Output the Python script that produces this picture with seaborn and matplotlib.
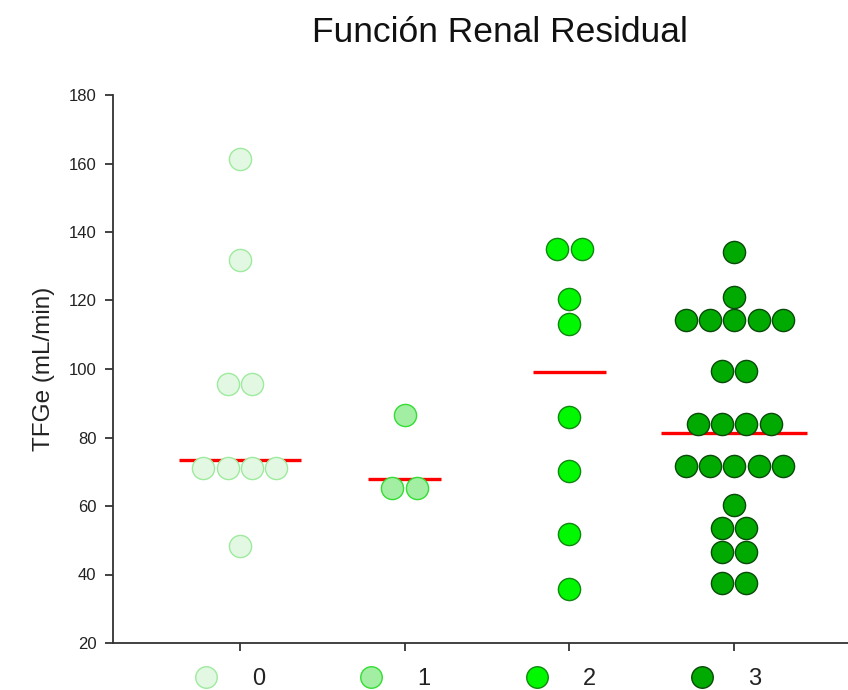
import numpy as np
import pandas as pd
import matplotlib
matplotlib.use("Agg")
import matplotlib.pyplot as plt
from matplotlib.lines import Line2D
import seaborn as sns

# ---- data ----
categories = ["0", "1", "2", "3"]
g0 = [161.3, 131.8, 95.6, 95.6, 71.1, 71.1, 71.1, 71.1, 48.4]
g1 = [86.6, 65.3, 65.3]
g2 = [135.0, 135.0, 120.4, 113.0, 86.0, 70.3, 51.8, 35.8]
g3 = [134.3, 121.0, 114.3, 114.3, 114.3, 114.3, 114.3, 99.5, 99.5,
      83.9, 83.9, 83.9, 83.9, 71.8, 71.8, 71.8, 71.8, 71.8,
      60.3, 53.6, 53.6, 46.6, 46.6, 37.5, 37.5]
medians = [73.3, 67.8, 99.2, 81.4]
face_colors = ["#e2f8e2", "#a2eea2", "#00f800", "#00aa00"]
edge_colors = ["#9eea9e", "#33dd33", "#118811", "#0a4a0a"]
yticks = [20, 40, 60, 80, 100, 120, 140, 160, 180]
groups = [g0, g1, g2, g3]

sns.set_theme(style="ticks")
plt.rcParams["font.family"] = ["Liberation Sans", "DejaVu Sans"]

W, H = 848, 690
fig = plt.figure(figsize=(W / 100, H / 100), dpi=100)
ax = fig.add_axes([113 / W, 47 / H, 1 - 113 / W, 548 / H])

d = 0.148  # horizontal spacing between tied points (x units)
rows = []
half_widths = []
for ci, vals in enumerate(groups):
    uniq, counts = np.unique(vals, return_counts=True)
    for v, k in zip(uniq, counts):
        for i in range(k):
            rows.append({"cat": categories[ci], "pos": ci + (i - (k - 1) / 2) * d, "val": v})
    half_widths.append((counts.max() + 1) * d / 2)
df = pd.DataFrame(rows)

# median lines
for ci, m in enumerate(medians):
    ax.hlines(m, ci - half_widths[ci], ci + half_widths[ci], color="#ff0000",
              linewidth=2.4, zorder=2)

for ci, c in enumerate(categories):
    sub = df[df["cat"] == c]
    sns.scatterplot(data=sub, x="pos", y="val", ax=ax, s=255, color=face_colors[ci],
                    edgecolor=edge_colors[ci], linewidth=1.0, zorder=3, legend=False)

ax.set_xlim(-0.77, 3.69)
ax.set_ylim(20, 180)
ax.set_xticks(range(len(categories)))
ax.set_xticklabels([])
ax.set_yticks(yticks)
ax.set_yticklabels([str(t) for t in yticks], fontsize=12, color="#222222")
ax.set_xlabel("")
ax.set_ylabel("TFGe (mL/min)", fontsize=17.5, color="#222222", labelpad=10)
ax.tick_params(axis="both", direction="out", length=6, width=1.2, color="#222222", pad=6)
for side in ["top", "right"]:
    ax.spines[side].set_visible(False)
for side in ["left", "bottom"]:
    ax.spines[side].set_color("#333333")
    ax.spines[side].set_linewidth(1.3)

fig.text(500 / W, 1 - 33 / H, "Función Renal Residual", fontsize=25.5,
         ha="center", va="center", color="#111111")

handles = [Line2D([], [], linestyle="none", marker="o", markersize=15.5,
                  markerfacecolor=face_colors[i], markeredgecolor=edge_colors[i],
                  markeredgewidth=1.0) for i in range(len(categories))]
leg = fig.legend(handles, categories, loc="center left",
                 bbox_to_anchor=(194 / W, 11 / H), ncol=4, frameon=False,
                 fontsize=17, handlelength=1.0, handletextpad=1.45,
                 columnspacing=4.0, borderpad=0, borderaxespad=0)
for t in leg.get_texts():
    t.set_color("#222222")

fig.savefig("out.png", dpi=100)
